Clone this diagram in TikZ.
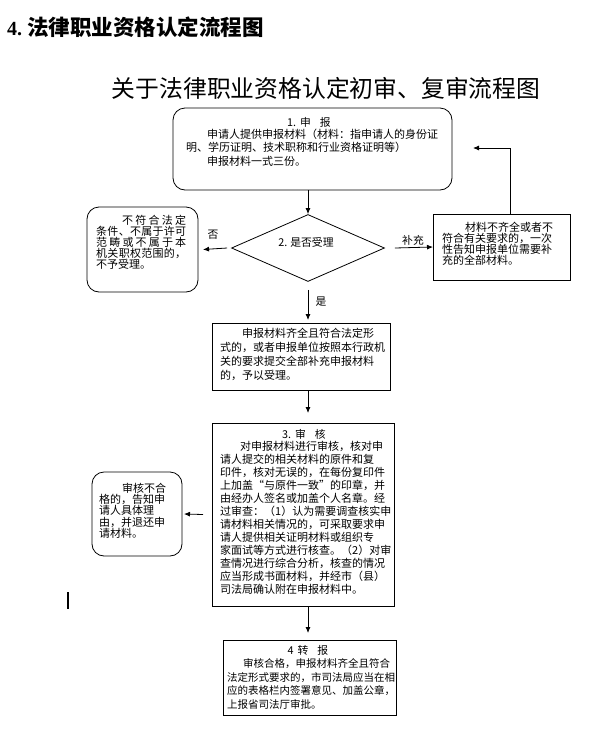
\documentclass[tikz,border=0pt]{standalone}
\usepackage{fontspec}
\setmainfont{Liberation Serif}
\newfontfamily\cjk{Noto Sans CJK SC}
\usetikzlibrary{arrows.meta,shapes.geometric,calc}
\lineskiplimit=-30pt
\lineskip=0pt
\makeatletter
\newcommand\jl[2]{\makebox[#1][s]{\@tfor\jc:=#2\do{\jc\hfil}\unskip}}
\makeatother
\begin{document}
\begin{tikzpicture}[x=1pt,y=-1pt,
  rbox/.style={draw,line width=0.8pt,rounded corners=12pt,inner sep=0pt,outer sep=0pt,anchor=north west},
  sbox/.style={draw,line width=0.8pt,inner sep=0pt,outer sep=0pt,anchor=north west},
  txt/.style={inner sep=0pt,anchor=north west,align=left,font=\cjk\fontsize{11}{#1}\selectfont},
  ttl/.style={inner sep=0pt,font=\cjk\fontsize{10.8}{12}\selectfont},
  arr/.style={-{Latex[length=6pt,width=5pt]},line width=0.8pt}]
\useasboundingbox (0,0) rectangle (602,742);
% titles
\node[inner sep=0pt,anchor=west,font=\fontsize{20}{22}\selectfont] (title) at (7,27)
  {\bfseries 4.\hspace{5pt}{\cjk\bfseries\fontsize{21.5}{24}\selectfont 法律职业资格认定流程图}};
\node[inner sep=0pt,font=\cjk\fontsize{23.8}{27}\selectfont] (sub) at (326,88)
  {关于法律职业资格认定初审、复审流程图};
% box 1
\node[rbox,minimum width=279pt,minimum height=82pt] (b1) at (173,108) {};
\node[ttl] (b1h) at (309,122) {1.\hspace{4pt}申\hspace{9pt}报};
\node[txt=13.5] (b1t) at (186,128.5)
  {\hspace*{21pt}申请人提供申报材料（材料：指申请人的身份证\\
   明、学历证明、技术职称和行业资格证明等）\\
   \hspace*{21pt}申报材料一式三份。};
% diamond
\node[diamond,draw,line width=0.8pt,inner sep=0pt,minimum width=153pt,minimum height=67pt] (dm) at (308,248) {};
\node[ttl] (dmt) at (306,242) {2.\hspace{3pt}是否受理};
% left box (no)
\node[rbox,minimum width=111pt,minimum height=85pt] (nob) at (87,207) {};
\node[txt=11] (nobt) at (96,214.6)
  {\hspace*{26pt}\jl{64pt}{不符合法定}\\
   \jl{90pt}{条件、不属于许可}\\
   \jl{90pt}{范畴或不属于本}\\
   \jl{90pt}{机关职权范围的，}\\
   不予受理。};
% right box (supplement)
\node[sbox,minimum width=137pt,minimum height=66pt] (rb) at (433,214) {};
\node[txt=11] (rbt) at (442,221.6)
  {\hspace*{23pt}\jl{87pt}{材料不齐全或者不}\\
   \jl{110pt}{符合有关要求的，一次}\\
   \jl{110pt}{性告知申报单位需要补}\\
   充的全部材料。};
\coordinate (fb) at (473,148);
% accept box
\node[sbox,minimum width=178pt,minimum height=67pt] (b2) at (212,323) {};
\node[txt=14] (b2t) at (220,327.6)
  {\hspace*{22pt}申报材料齐全且符合法定形\\
   式的，或者申报单位按照本行政机\\
   关的要求提交全部补充申报材料\\
   的，予以受理。};
% box 3
\node[sbox,minimum width=182pt,minimum height=183pt] (b3) at (212,423) {};
\node[ttl] (b3h) at (304,434) {3.\hspace{4pt}审\hspace{9pt}核};
\node[txt=13] (b3t) at (220,440.5)
  {\hspace*{20pt}对申报材料进行审核，核对申\\
   请人提交的相关材料的原件和复\\
   印件，核对无误的，在每份复印件\\
   上加盖“与原件一致”的印章，并\\
   由经办人签名或加盖个人名章。经\\
   过审查：（1）认为需要调查核实申\\
   请材料相关情况的，可采取要求申\\
   请人提供相关证明材料或组织专\\
   家面试等方式进行核查。（2）对审\\
   查情况进行综合分析，核查的情况\\
   应当形成书面材料，并经市（县）\\
   司法局确认附在申报材料中。};
% fail box
\node[rbox,minimum width=90pt,minimum height=84pt] (fl) at (92,472) {};
\node[txt=11.3] (flt) at (99,482.6)
  {\hspace*{23pt}审核不合\\
   格的，告知申\\
   请人具体理\\
   由，并退还申\\
   请材料。};
% box 4
\node[sbox,minimum width=173pt,minimum height=75pt] (b4) at (223,640) {};
\node[ttl] (b4h) at (308,650) {4\hspace{4pt}转\hspace{9pt}报};
\node[txt=13.5,font=\cjk\fontsize{10.5}{13.5}\selectfont] (b4t) at (227,658.8)
  {\hspace*{16pt}审核合格，申报材料齐全且符合\\
   法定形式要求的，市司法局应当在相\\
   应的表格栏内签署意见、加盖公章，\\
   上报省司法厅审批。};
% labels
\node[ttl] (lno) at (213,235) {否};
\node[ttl] (lsup) at (413,240) {补充};
\node[ttl] (lyes) at (321,302) {是};
% connectors
\draw[arr] (b1.south -| dm.center) -- (dm.north);
\draw[arr] ($(dm.west)+(-4pt,0pt)$) -- ($(nob.east)+(5pt,0pt)$);
\draw[arr] ($(dm.east)+(10pt,0pt)$) -- (rb.west);
\draw[arr] ($(rb.north)+(8.5pt,0pt)$) |- (fb);
\draw[arr] ($(dm.south)+(0pt,-8pt)$) -- ($(b2.north -| dm.center)+(0pt,3pt)$);
\draw[arr] (b2.south -| dm.center) -- ($(b3.north -| dm.center)+(0pt,10pt)$);
\draw[arr] (b3.south -| dm.center) -- ($(b4.north -| dm.center)+(0pt,7pt)$);
\draw[arr] ($(b3.west)+(-9pt,0pt)$) -- ($(fl.east)+(2pt,0pt)$);
% cursor mark
\coordinate (cu1) at (68,592);
\coordinate (cu2) at (68,609);
\draw[line width=1.8pt] (cu1) -- (cu2);
\end{tikzpicture}
\end{document}
